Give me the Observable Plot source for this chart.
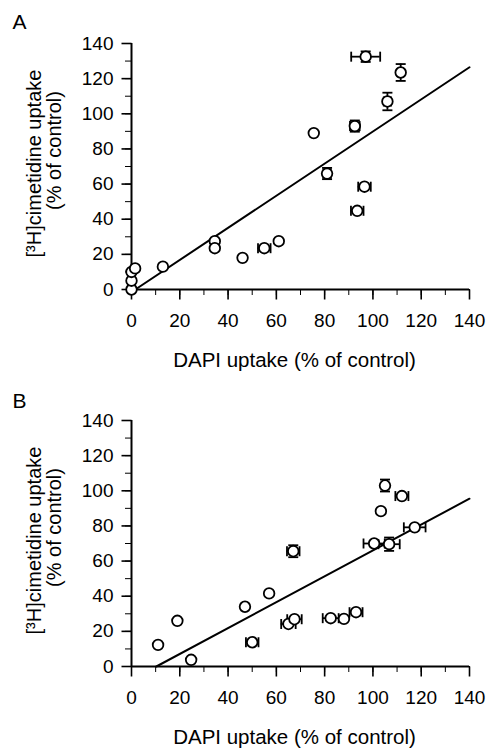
<!DOCTYPE html>
<html>
<head>
<meta charset="utf-8">
<script src="https://cdn.jsdelivr.net/npm/d3@7"></script>
<script src="https://cdn.jsdelivr.net/npm/@observablehq/plot@0.6"></script>
<style>
  body { margin: 0; background: #fff; }
  #wrap { width: 489px; height: 751px; overflow: hidden; }
  #wrap svg { display: block; }
</style>
</head>
<body>
<div id="wrap"></div>
<script>
// ---------- data ----------
const panelLetters = ["A", "B"];
const xLabel = "DAPI uptake (% of control)";
const yLabel1 = "[³H]cimetidine uptake";
const yLabel2 = "(% of control)";
const majorTicks = [0, 20, 40, 60, 80, 100, 120, 140];
const minorTicks = [0, 10, 20, 30, 40, 50, 60, 70, 80, 90, 100, 110, 120, 130, 140];

// Panel A
const aDapi    = [0, 0, 0, 1.5, 13, 34.5, 34.5, 46, 55, 61, 75.5, 81, 92.5, 93.5, 96.5, 97, 106, 111.5];
const aCim     = [0, 5, 10, 12, 13, 27.5, 23.5, 18, 23.5, 27.5, 89, 66, 93, 44.8, 58.5, 132.5, 107, 123.5];
const aDapiErr = [0, 0, 0, 0, 0, 0, 0, 0, 2.6, 0, 0, 1.5, 2, 2.6, 2.6, 6, 1.5, 1];
const aCimErr  = [0, 0, 0, 0, 0, 0, 0, 0, 0, 0, 0, 3.2, 3.2, 0, 0, 3, 5, 4.8];
const aFitDapi = [1.6, 140];
const aFitCim  = [0, 126.5];

// Panel B
const bDapi    = [11, 19, 24.7, 47, 50, 57, 65, 67.5, 67, 82.5, 88, 93, 100.5, 106.7, 103.3, 105, 112, 117.3];
const bCim     = [12.3, 26, 3.8, 34, 13.8, 41.6, 24.2, 26.9, 65.6, 27.5, 27.1, 30.9, 70, 69.6, 88.4, 103, 97, 79.2];
const bDapiErr = [0, 0, 0, 0, 2.6, 0, 3, 3, 2.6, 3.3, 0, 2.7, 4.4, 4.4, 0, 0, 2.7, 4.5];
const bCimErr  = [0, 0, 0, 0, 0, 0, 0, 0, 3.4, 0, 0, 0, 0, 3.8, 0, 3.4, 0, 0];
const bFitDapi = [10.3, 140];
const bFitCim  = [0, 95.5];

// ---------- helpers ----------
const FONT = '"Liberation Sans", Arial, Helvetica, sans-serif';
const vCap = { draw(ctx, size) { const h = Math.sqrt(size / Math.PI); ctx.moveTo(0, -h); ctx.lineTo(0, h); } };
const hCap = { draw(ctx, size) { const h = Math.sqrt(size / Math.PI); ctx.moveTo(-h, 0); ctx.lineTo(h, 0); } };
// long (major) tick marks hanging below / left of the axis line
const downTick = { draw(ctx, size) { const h = Math.sqrt(size / Math.PI); ctx.moveTo(0, 0); ctx.lineTo(0, h); } };
const leftTick = { draw(ctx, size) { const h = Math.sqrt(size / Math.PI); ctx.moveTo(0, 0); ctx.lineTo(-h, 0); } };

function rows(xs, ys, xe, ye) {
  return xs.map((x, i) => ({ x, y: ys[i], xe: xe[i], ye: ye[i] }));
}

function panel({ letter, pts, fitX, fitY, height, marginTop, marginBottom, letterDy }) {
  const fit = fitX.map((x, i) => ({ x, y: fitY[i] }));
  const xErr = pts.filter(d => d.xe > 0);
  const yErr = pts.filter(d => d.ye > 0);
  const lbl = d => (d % 20 ? "" : String(d));
  const txt = { fill: "#000", textAnchor: "middle", lineAnchor: "middle" };
  return Plot.plot({
    width: 489,
    height,
    marginLeft: 131,
    marginRight: 20,
    marginTop,
    marginBottom,
    x: { domain: [0, 140], ticks: minorTicks, tickSize: 6, tickPadding: 18, tickFormat: lbl, label: null },
    y: { domain: [0, 140], ticks: minorTicks, tickSize: 6, tickPadding: 12, tickFormat: lbl, label: null },
    style: { fontFamily: FONT, fontSize: "19px", color: "#000", background: "#fff", overflow: "visible" },
    marks: [
      Plot.dot(majorTicks, { x: d => d, y: () => 0, symbol: downTick, r: 10, fill: "none", stroke: "#000", strokeWidth: 1.6 }),
      Plot.dot(majorTicks, { x: () => 0, y: d => d, symbol: leftTick, r: 10, fill: "none", stroke: "#000", strokeWidth: 1.6 }),
      Plot.ruleX([0], { stroke: "#000", strokeWidth: 2 }),
      Plot.ruleY([0], { stroke: "#000", strokeWidth: 2 }),
      Plot.line(fit, { x: "x", y: "y", stroke: "#000", strokeWidth: 2 }),
      // error bars
      Plot.ruleY(xErr, { y: "y", x1: d => d.x - d.xe, x2: d => d.x + d.xe, stroke: "#000", strokeWidth: 1.8 }),
      Plot.ruleX(yErr, { x: "x", y1: d => d.y - d.ye, y2: d => d.y + d.ye, stroke: "#000", strokeWidth: 1.8 }),
      Plot.dot(xErr, { x: d => d.x - d.xe, y: "y", symbol: vCap, r: 5, fill: "none", stroke: "#000", strokeWidth: 1.8 }),
      Plot.dot(xErr, { x: d => d.x + d.xe, y: "y", symbol: vCap, r: 5, fill: "none", stroke: "#000", strokeWidth: 1.8 }),
      Plot.dot(yErr, { x: "x", y: d => d.y - d.ye, symbol: hCap, r: 5, fill: "none", stroke: "#000", strokeWidth: 1.8 }),
      Plot.dot(yErr, { x: "x", y: d => d.y + d.ye, symbol: hCap, r: 5, fill: "none", stroke: "#000", strokeWidth: 1.8 }),
      // data points
      Plot.dot(pts, { x: "x", y: "y", r: 5.3, fill: "#fff", stroke: "#000", strokeWidth: 1.8 }),
      // labels
      Plot.text([xLabel], { ...txt, text: d => d, frameAnchor: "bottom", dy: 71, dx: -6, fontSize: 20.5 }),
      Plot.text([yLabel1], { ...txt, text: d => d, frameAnchor: "left", rotate: -90, dx: -97, dy: -3, fontSize: 20 }),
      Plot.text([yLabel2], { ...txt, text: d => d, frameAnchor: "left", rotate: -90, dx: -77, dy: -16, fontSize: 20 }),
      Plot.text([letter], { ...txt, text: d => d, frameAnchor: "top-left", textAnchor: "start", dx: -119, dy: letterDy, fontSize: 21 })
    ]
  });
}

const wrap = document.getElementById("wrap");
wrap.append(panel({
  letter: panelLetters[0],
  pts: rows(aDapi, aCim, aDapiErr, aCimErr),
  fitX: aFitDapi, fitY: aFitCim,
  height: 376, marginTop: 43, marginBottom: 87, letterDy: -21
}));
wrap.append(panel({
  letter: panelLetters[1],
  pts: rows(bDapi, bCim, bDapiErr, bCimErr),
  fitX: bFitDapi, fitY: bFitCim,
  height: 375, marginTop: 44, marginBottom: 85, letterDy: -19
}));
</script>
</body>
</html>
